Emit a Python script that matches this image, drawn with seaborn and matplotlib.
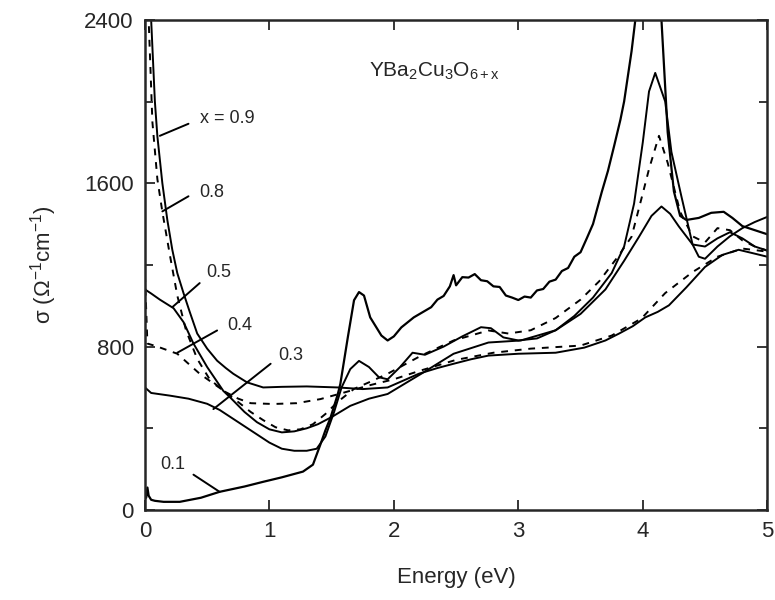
import matplotlib
matplotlib.use("Agg")
import matplotlib.pyplot as plt
from matplotlib.ticker import MultipleLocator
import seaborn as sns
import pandas as pd

# Optical conductivity of YBa2Cu3O6+x for several oxygen contents
energy_09 = [0.02, 0.05, 0.08, 0.10, 0.14, 0.18, 0.22, 0.26, 0.31, 0.36, 0.42, 0.50, 0.58, 0.65, 0.71, 0.82,
             0.95, 1.10, 1.30, 1.55, 1.75, 1.95, 2.10, 2.20, 2.35, 2.48, 2.62, 2.76, 3.00, 3.30, 3.53, 3.70,
             3.81, 3.92, 4.02, 4.12, 4.21, 4.35, 4.50, 4.64, 4.77, 4.90, 5.00]
sigma_09 = [3000, 2400, 2000, 1830, 1600, 1420, 1274, 1160, 1062, 970, 864, 790, 731, 695, 667, 625,
            600, 603, 605, 600, 592, 600, 640, 667, 695, 716, 738, 756, 765, 770, 795, 830,
            864, 900, 943, 970, 1002, 1090, 1190, 1249, 1274, 1255, 1240]

energy_08 = [0.01, 0.03, 0.06, 0.10, 0.14, 0.20, 0.26, 0.33, 0.42, 0.52, 0.64, 0.75, 0.85, 1.03, 1.22, 1.41,
             1.60, 1.80, 2.00, 2.20, 2.50, 2.80, 3.10, 3.50, 3.75, 3.99, 4.18, 4.40, 4.60, 4.80, 5.00]
sigma_08 = [3000, 2400, 1900, 1620, 1460, 1250, 1050, 880, 740, 640, 580, 545, 523, 519, 523, 543,
            575, 610, 640, 680, 735, 770, 790, 805, 854, 938, 1062, 1165, 1240, 1280, 1265]

energy_05 = [0.00, 0.05, 0.12, 0.23, 0.31, 0.39, 0.50, 0.63, 0.69, 0.80, 0.90, 1.00, 1.10, 1.20, 1.30, 1.39,
             1.50, 1.65, 1.80, 1.95, 2.22, 2.48, 2.76, 3.02, 3.30, 3.50, 3.70, 3.85, 3.97, 4.07, 4.15, 4.22,
             4.29, 4.40, 4.50, 4.60, 4.70, 4.80, 4.90, 5.00]
sigma_05 = [1080, 1060, 1030, 988, 920, 815, 700, 583, 548, 480, 430, 395, 380, 385, 400, 420,
            455, 510, 545, 568, 667, 765, 820, 830, 880, 960, 1080, 1220, 1338, 1440, 1486, 1450,
            1388, 1300, 1290, 1330, 1360, 1330, 1290, 1270]

energy_04 = [0.00, 0.02, 0.10, 0.26, 0.44, 0.60, 0.74, 0.85, 0.95, 1.05, 1.15, 1.25, 1.35, 1.45, 1.55, 1.68,
             1.80, 1.95, 2.22, 2.48, 2.76, 2.92, 3.10, 3.30, 3.50, 3.65, 3.80, 3.91, 4.00, 4.05, 4.13, 4.20,
             4.30, 4.40, 4.50, 4.60, 4.70, 4.80, 4.90, 5.00]
sigma_04 = [1150, 815, 800, 765, 667, 598, 533, 480, 440, 405, 390, 395, 420, 470, 530, 593,
            625, 667, 756, 830, 879, 864, 880, 940, 1030, 1120, 1240, 1338, 1550, 1669, 1832, 1700,
            1460, 1340, 1310, 1380, 1370, 1320, 1290, 1270]

energy_03 = [0.00, 0.05, 0.20, 0.35, 0.50, 0.60, 0.75, 0.90, 1.00, 1.10, 1.20, 1.30, 1.38, 1.45, 1.52, 1.58,
             1.65, 1.72, 1.80, 1.88, 1.95, 2.05, 2.15, 2.25, 2.40, 2.55, 2.70, 2.78, 2.88, 3.00, 3.15, 3.30,
             3.45, 3.60, 3.75, 3.85, 3.93, 4.00, 4.05, 4.10, 4.18, 4.23, 4.31, 4.40, 4.45, 4.50, 4.60, 4.70,
             4.80, 4.90, 5.00]
sigma_03 = [600, 573, 560, 545, 520, 490, 430, 370, 330, 300, 290, 290, 300, 360, 480, 600,
            690, 730, 700, 650, 640, 700, 770, 760, 800, 850, 895, 890, 845, 830, 840, 880,
            950, 1040, 1160, 1290, 1500, 1800, 2049, 2140, 2000, 1753, 1536, 1300, 1240, 1230, 1290, 1340,
            1380, 1410, 1435]

energy_01 = [0.01, 0.02, 0.03, 0.05, 0.08, 0.15, 0.28, 0.45, 0.60, 0.80, 0.95, 1.10, 1.27, 1.35, 1.41, 1.45,
             1.49, 1.55, 1.57, 1.63, 1.68, 1.72, 1.76, 1.81, 1.90, 1.95, 2.00, 2.06, 2.16, 2.30, 2.35, 2.40,
             2.45, 2.48, 2.50, 2.55, 2.60, 2.65, 2.70, 2.75, 2.80, 2.85, 2.90, 2.95, 3.00, 3.05, 3.10, 3.15,
             3.20, 3.25, 3.30, 3.35, 3.40, 3.45, 3.50, 3.55, 3.60, 3.67, 3.72, 3.77, 3.82, 3.85, 3.91, 3.95,
             4.00, 4.05, 4.10, 4.15, 4.20, 4.25, 4.30, 4.35, 4.45, 4.55, 4.65, 4.72, 4.80, 4.90, 5.00]
sigma_01 = [60, 110, 70, 50, 45, 40, 40, 60, 89, 115, 138, 160, 188, 222, 321, 390,
            450, 568, 617, 845, 1027, 1067, 1050, 943, 854, 830, 850, 894, 943, 993, 1030, 1048,
            1095, 1150, 1100, 1140, 1138, 1155, 1125, 1120, 1095, 1092, 1050, 1040, 1028, 1045, 1040, 1075,
            1082, 1118, 1128, 1170, 1185, 1240, 1262, 1330, 1400, 1556, 1660, 1783, 1910, 2000, 2247, 2450,
            2800, 3000, 2800, 2400, 1850, 1560, 1440, 1420, 1430, 1455, 1460, 1430, 1390, 1370, 1350]

series = [
    ("0.9", energy_09, sigma_09, "-"),
    ("0.8", energy_08, sigma_08, (0, (3.5, 3.5))),
    ("0.5", energy_05, sigma_05, "-"),
    ("0.4", energy_04, sigma_04, (0, (3.5, 3.5))),
    ("0.3", energy_03, sigma_03, "-"),
    ("0.1", energy_01, sigma_01, "-"),
]

sns.set_style("ticks")
plt.rcParams["font.family"] = ["Liberation Sans", "DejaVu Sans"]
plt.rcParams["mathtext.fontset"] = "custom"
plt.rcParams["mathtext.rm"] = "Liberation Sans"
plt.rcParams["mathtext.it"] = "Liberation Sans"

fig = plt.figure(figsize=(7.75, 6.0), dpi=100)
ax = fig.add_axes([0.187, 0.150, 0.803, 0.817])

for name, e, s, ls in series:
    df = pd.DataFrame({"Energy": e, "sigma": s})
    sns.lineplot(data=df, x="Energy", y="sigma", ax=ax, color="black",
                 linestyle=ls, linewidth=1.4 if name != "0.1" else 1.6,
                 estimator=None, sort=False)

ax.set_xlim(0, 5)
ax.set_ylim(0, 2400)
ax.xaxis.set_major_locator(MultipleLocator(1))
ax.yaxis.set_major_locator(MultipleLocator(800))
ax.yaxis.set_minor_locator(MultipleLocator(400))
ax.tick_params(axis="both", which="both", direction="in", top=True, right=True,
               width=1.3, labelsize=16, pad=8)
ax.tick_params(which="major", length=7)
ax.tick_params(which="minor", length=6)
for sp in ax.spines.values():
    sp.set_linewidth(1.8)

ax.set_xlabel("Energy (eV)", fontsize=16, labelpad=18)
ax.set_ylabel(r"σ (Ω$^{-1}$cm$^{-1}$)", fontsize=16, labelpad=18)

ax.text(1.80, 2150, r"YBa$_2$Cu$_3$O$_{6+x}$", fontsize=15, ha="left", va="center")

# doping labels with leader lines
labels = [
    ("x = 0.9", (0.44, 1916), (0.35, 1891), (0.12, 1832)),
    ("0.8", (0.44, 1556), (0.35, 1536), (0.14, 1462)),
    ("0.5", (0.49, 1165), (0.44, 1111), (0.22, 993)),
    ("0.4", (0.66, 904), (0.58, 879), (0.26, 770)),
    ("0.3", (1.07, 756), (1.01, 716), (0.55, 494)),
    ("0.1", (0.12, 222), (0.39, 173), (0.60, 89)),
]
for txt, tpos, p0, p1 in labels:
    ax.text(tpos[0], tpos[1], txt, fontsize=13, ha="left", va="center")
    ax.plot([p0[0], p1[0]], [p0[1], p1[1]], color="black", linewidth=1.4)

fig.savefig("out.png", dpi=100)
